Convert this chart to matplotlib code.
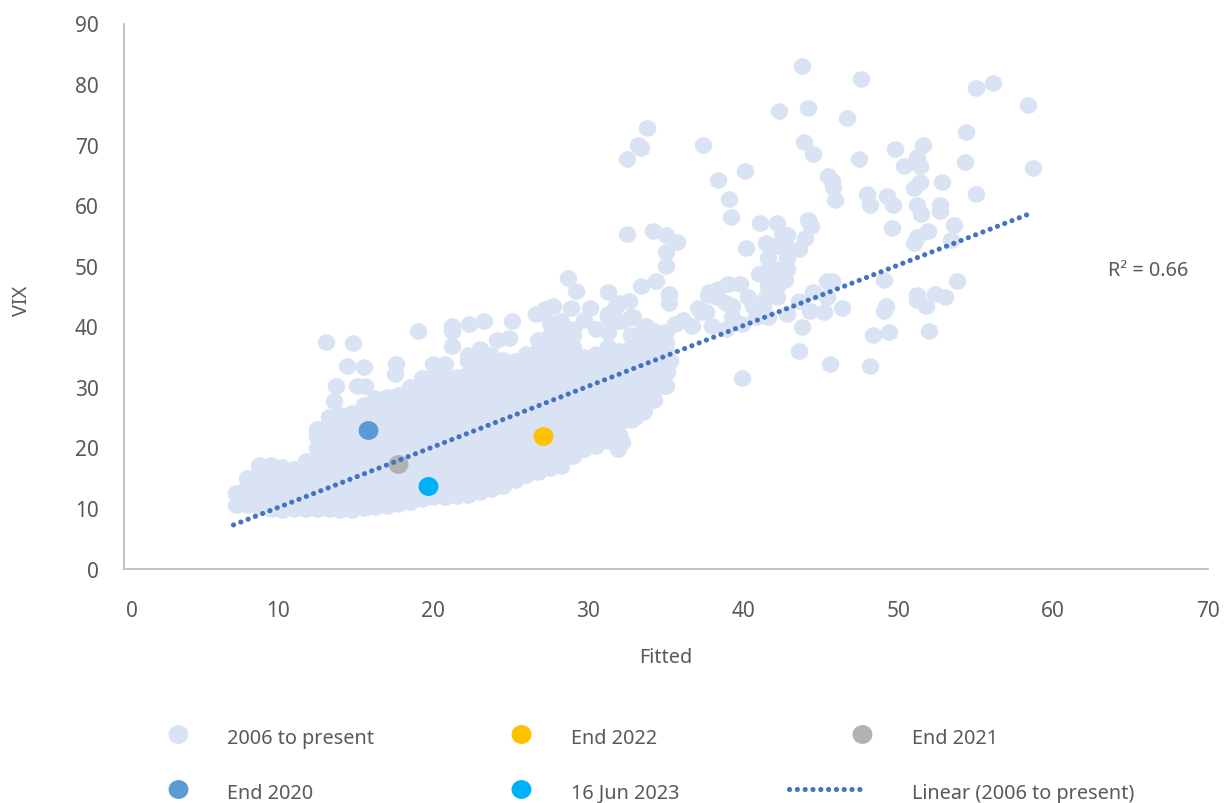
"""VIX against fitted value, scatter with trend line and a few highlighted dates."""

import matplotlib
matplotlib.use("Agg")
import matplotlib.pyplot as plt
from matplotlib.path import Path
from matplotlib.transforms import Affine2D, ScaledTranslation

plt.rcParams["font.family"] = ["Noto Sans", "DejaVu Sans"]

cloud_x = [7.25, 8.0, 8.75, 9.5, 10.25, 11.0, 11.75, 12.5, 13.25, 14.0, 14.75, 15.5, 16.25, 17.0,
           17.75, 18.5, 19.25, 20.0, 20.75, 21.5, 22.25, 23.0, 23.75, 24.5, 25.25, 26.0, 26.75,
           27.5, 28.25, 29.0, 29.75, 30.5, 31.25, 32.0, 32.75, 33.5, 34.25, 35.0]
cloud_y = [
    [10.5, 12.5],
    [10.5, 11.5, 13.5, 15.0],
    [10.2, 12.2, 14.2, 16.0, 17.1],
    [9.8, 11.8, 13.8, 15.8, 17.1],
    [9.6, 11.6, 13.6, 15.5, 16.8],
    [9.8, 11.8, 13.8, 15.8, 16.5],
    [9.8, 11.8, 13.8, 15.8, 17.8],
    [9.9, 11.9, 13.9, 15.9, 17.9, 19.9, 21.9, 23.0],
    [9.8, 11.8, 13.8, 15.8, 17.8, 19.8, 21.8, 23.8, 25.0],
    [9.6, 11.6, 13.6, 15.6, 17.6, 19.6, 21.6, 23.6, 25.4],
    [9.6, 11.6, 13.6, 15.6, 17.6, 19.6, 21.6, 23.6, 25.6],
    [10.0, 12.0, 14.0, 16.0, 18.0, 20.0, 22.0, 24.0, 26.0, 27.0],
    [10.2, 12.2, 14.2, 16.2, 18.2, 20.2, 22.2, 24.2, 26.2, 28.2],
    [10.4, 12.4, 14.4, 16.4, 18.4, 20.4, 22.4, 24.4, 26.4, 28.4],
    [10.6, 12.6, 14.6, 16.6, 18.6, 20.6, 22.6, 24.6, 26.6, 28.6],
    [11.0, 13.0, 15.0, 17.0, 19.0, 21.0, 23.0, 25.0, 27.0, 29.0, 29.9],
    [11.4, 13.4, 15.4, 17.4, 19.4, 21.4, 23.4, 25.4, 27.4, 29.4, 31.4],
    [11.8, 13.8, 15.8, 17.8, 19.8, 21.8, 23.8, 25.8, 27.8, 29.8, 31.8, 33.7],
    [11.8, 13.8, 15.8, 17.8, 19.8, 21.8, 23.8, 25.8, 27.8, 29.8, 31.8, 33.7],
    [12.0, 14.0, 16.0, 18.0, 20.0, 22.0, 24.0, 26.0, 28.0, 30.0, 31.7],
    [12.2, 14.2, 16.2, 18.2, 20.2, 22.2, 24.2, 26.2, 28.2, 30.2, 32.2, 34.2, 35.3],
    [12.6, 14.6, 16.6, 18.6, 20.6, 22.6, 24.6, 26.6, 28.6, 30.6, 32.6, 34.6, 36.2],
    [13.2, 15.2, 17.2, 19.2, 21.2, 23.2, 25.2, 27.2, 29.2, 31.2, 33.2, 35.2],
    [13.6, 15.6, 17.6, 19.6, 21.6, 23.6, 25.6, 27.6, 29.6, 31.6, 33.6, 34.5],
    [14.6, 16.6, 18.6, 20.6, 22.6, 24.6, 26.6, 28.6, 30.6, 32.6, 34.2],
    [15.4, 17.4, 19.4, 21.4, 23.4, 25.4, 27.4, 29.4, 31.4, 33.4, 35.4],
    [16.0, 18.0, 20.0, 22.0, 24.0, 26.0, 28.0, 30.0, 32.0, 34.0, 36.0, 37.8],
    [16.6, 18.6, 20.6, 22.6, 24.6, 26.6, 28.6, 30.6, 32.6, 34.6, 36.6, 38.6, 40.6],
    [17.0, 19.0, 21.0, 23.0, 25.0, 27.0, 29.0, 31.0, 33.0, 35.0, 37.0, 39.0, 40.8],
    [18.5, 20.5, 22.5, 24.5, 26.5, 28.5, 30.5, 32.5, 34.5, 36.5, 38.5, 39.5],
    [19.8, 21.8, 23.8, 25.8, 27.8, 29.8, 31.8, 33.8, 35.0, 41.1],
    [20.3, 22.3, 24.3, 26.3, 28.3, 30.3, 32.3, 34.3, 35.4, 39.5],
    [21.0, 23.0, 25.0, 27.0, 29.0, 31.0, 33.0, 35.0, 36.5, 39.1, 42.0],
    [22.0, 24.0, 26.0, 28.0, 30.0, 32.0, 34.0, 36.0, 40.8, 43.9],
    [24.5, 26.5, 28.5, 30.5, 32.5, 34.5, 36.5, 38.6, 41.6],
    [25.8, 27.8, 29.8, 31.8, 33.8, 35.8, 37.8, 39.6],
    [27.8, 29.8, 31.8, 33.8, 35.8, 37.8, 39.2],
    [30.1, 32.4, 34.0, 36.0, 37.3, 39.0],
]

# loose points around and above the cloud
outlier_x = [43.8, 47.6, 55.0, 56.1, 58.4, 42.3, 44.2, 46.7, 54.4, 33.8, 33.2, 33.4, 32.5, 37.4, 43.9,
             44.5, 47.5, 49.8, 51.6, 51.2, 50.4, 51.4, 54.3, 58.7, 38.4, 40.1, 39.1, 39.2, 45.5, 45.7,
             45.8, 45.9, 48.0, 48.2, 49.3, 49.7, 51.4, 51.0, 52.8, 51.2, 51.5, 52.7, 52.7, 55.0, 49.6,
             53.6, 51.9, 51.2, 51.0, 53.4, 53.8, 49.1, 51.2, 51.2, 52.4, 53.0, 51.8, 49.2, 49.1, 48.4,
             49.4, 52.0, 45.6, 48.2, 39.9, 43.6, 43.8, 46.4, 45.2, 44.3, 42.8, 45.4, 44.5, 45.4, 45.7,
             43.6, 44.2, 44.4, 44.0, 43.6, 42.2, 41.1, 42.5, 42.8, 41.5, 40.2, 42.2, 42.7, 41.6, 42.8,
             41.6, 42.4, 42.8, 41.0, 42.7, 41.9, 41.6, 42.2, 42.2, 41.5, 41.3, 40.6, 40.3, 39.8, 39.0,
             38.4, 37.8, 38.9, 39.3, 38.3, 37.1, 37.6, 37.7, 39.3, 39.9, 40.8, 41.6, 38.9, 38.0, 36.7,
             36.1, 35.6, 37.3, 31.3, 33.4, 34.4, 35.2, 35.2, 32.5, 34.2, 35.0, 35.7, 35.0, 35.0, 32.6,
             31.8, 32.9, 32.2, 33.7, 31.3, 19.0, 21.2, 21.2, 22.3, 23.3, 25.1, 21.2, 24.1, 24.9, 26.6,
             27.2, 27.7, 28.7, 29.2, 28.9, 30.1, 13.1, 14.8, 14.4, 15.5, 17.6, 17.5, 13.7, 13.6, 15.1,
             15.6, 31.9, 32.2, 31.2, 33.0, 33.6, 34.2, 34.9, 35.1, 35.3]
outlier_y = [82.9, 80.9, 79.3, 80.1, 76.5, 75.6, 76.0, 74.4, 72.1, 72.8, 69.9, 69.4, 67.7, 70.0, 70.4,
             68.5, 67.7, 69.2, 70.0, 68.0, 66.4, 66.4, 67.1, 66.1, 64.1, 65.6, 61.1, 58.0, 64.8, 64.0,
             63.0, 60.8, 61.8, 60.0, 61.5, 60.0, 63.8, 62.9, 63.8, 60.1, 58.6, 60.1, 59.0, 61.8, 56.2,
             56.8, 55.8, 54.7, 53.7, 54.3, 47.4, 47.7, 45.1, 44.3, 45.4, 44.9, 43.4, 43.4, 42.6, 38.6,
             39.1, 39.3, 33.7, 33.4, 31.4, 36.0, 39.8, 43.0, 42.3, 42.6, 42.0, 44.9, 45.7, 47.4, 47.4,
             44.1, 57.6, 56.6, 54.5, 52.7, 57.1, 57.1, 55.2, 55.0, 53.7, 53.0, 53.2, 53.2, 51.2, 51.2,
             49.4, 49.4, 49.4, 48.7, 47.6, 47.6, 46.6, 46.6, 44.8, 44.9, 43.3, 43.3, 44.8, 46.9, 46.9,
             46.2, 45.6, 43.9, 43.3, 44.9, 43.1, 42.3, 45.2, 41.5, 40.3, 41.5, 41.5, 39.5, 40.0, 40.0,
             41.1, 40.3, 42.3, 45.6, 46.7, 47.4, 45.4, 43.9, 55.2, 55.8, 55.0, 54.0, 52.3, 49.9, 44.1,
             43.3, 41.6, 40.8, 40.1, 41.6, 39.3, 40.1, 39.3, 40.3, 40.8, 40.8, 36.8, 37.7, 38.1, 42.1,
             42.8, 43.3, 48.0, 45.9, 43.1, 43.1, 37.4, 37.3, 33.5, 33.2, 33.7, 32.2, 30.1, 27.7, 30.2,
             30.2, 19.7, 20.9, 21.6, 25.0, 26.2, 27.9, 30.1, 32.4, 34.2]

# single dates
end_2022 = (27.1, 21.8)
end_2021 = (17.7, 17.3)
end_2020 = (15.8, 22.8)
jun_2023 = (19.65, 13.6)

trend_x = [7.1, 58.4]
trend_y = [7.2, 58.5]

x_ticks = [0, 10, 20, 30, 40, 50, 60, 70]
y_ticks = [0, 10, 20, 30, 40, 50, 60, 70, 80, 90]

CLOUD = "#DAE3F3"
YELLOW = "#FFC000"
GREY = "#B2B2B2"
BLUE = "#5B9BD5"
CYAN = "#00B0F8"
LINE = "#4472C4"
TEXT = "#595959"
AXIS = "#BFBFBF"

# excel's circles come out a little wider than tall in this image
oval = Path.unit_circle().transformed(Affine2D().scale(1, 0.95))
# a zero-length dash gets dropped by Agg, so keep a tiny one for the round caps
DOTS = (0, (0.02, 1.5))

W, H = 1225, 804
fig = plt.figure(figsize=(W / 100, H / 100), dpi=100)
ax = fig.add_axes([123.5 / W, 1 - 569.5 / H, (1208 - 123.5) / W, (569.5 - 24.5) / H])

all_x = list(outlier_x)
all_y = list(outlier_y)
for x, ys in zip(cloud_x, cloud_y):
    all_x += [x] * len(ys)
    all_y += ys

ax.scatter(all_x, all_y, s=160, marker=oval, color=CLOUD, linewidths=0, zorder=2)
for point, colour in [(end_2022, YELLOW), (end_2021, GREY), (end_2020, BLUE), (jun_2023, CYAN)]:
    ax.scatter([point[0]], [point[1]], s=205, marker=oval, color=colour, linewidths=0, zorder=3)
ax.plot(trend_x, trend_y, color=LINE, lw=3.7, linestyle=DOTS, dash_capstyle="round", zorder=4)

ax.set_xlim(0, 70)
ax.set_ylim(0, 90)
ax.set_xticks(x_ticks)
ax.set_yticks(y_ticks)
ax.tick_params(length=0, labelsize=15, labelcolor=TEXT)
ax.tick_params(axis="x", pad=23)
ax.tick_params(axis="y", pad=18)
for side in ["top", "right"]:
    ax.spines[side].set_visible(False)
for side in ["left", "bottom"]:
    ax.spines[side].set_color(AXIS)
    ax.spines[side].set_linewidth(1.3)

# the 0 sits a bit right of the axis in the original
zero = ax.get_xticklabels()[0]
zero.set_transform(zero.get_transform() + ScaledTranslation(8 / 100, 0, fig.dpi_scale_trans))

# labels and legend placed in pixel space on a full-figure overlay
over = fig.add_axes([0, 0, 1, 1], facecolor="none")
over.set_xlim(0, W)
over.set_ylim(H, 0)
over.axis("off")

over.text(666, 658, "Fitted", ha="center", va="center", fontsize=14.3, color=TEXT)
over.text(22, 301, "VIX", ha="center", va="center", rotation=90, fontsize=14.3, color=TEXT)
over.text(1108, 271, "R² = 0.66", ha="left", va="center", fontsize=14.3, color=TEXT)

legend_items = [
    (178, 735, CLOUD, 227, "2006 to present"),
    (521, 735, YELLOW, 571, "End 2022"),
    (862, 735, GREY, 912, "End 2021"),
    (178, 790, BLUE, 227, "End 2020"),
    (521, 790, CYAN, 571, "16 Jun 2023"),
]
for mx, my, colour, tx, label in legend_items:
    over.scatter([mx], [my], s=205, marker=oval, color=colour, linewidths=0)
    over.text(tx, my + 4, label, ha="left", va="center", fontsize=14.3, color=TEXT)
over.plot([789, 866], [790, 790], color=LINE, lw=3.7, linestyle=DOTS, dash_capstyle="round")
over.text(912, 794, "Linear (2006 to present)", ha="left", va="center", fontsize=14.3, color=TEXT)
over.set_xlim(0, W)
over.set_ylim(H, 0)

fig.savefig("out.png", dpi=100)
plt.close(fig)
